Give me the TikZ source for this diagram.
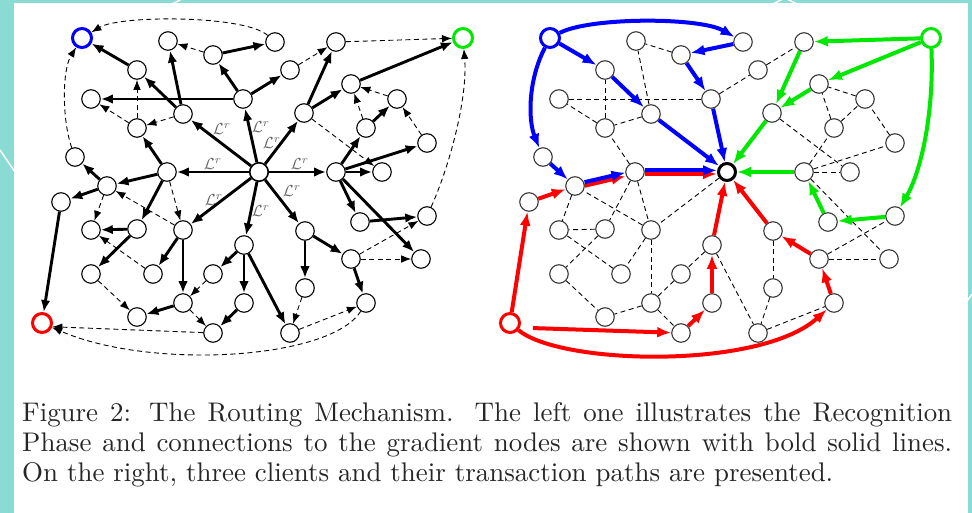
\documentclass[tikz,border=0pt]{standalone}
\usepackage{fontspec}
\usepackage{graphicx}
\usetikzlibrary{arrows.meta}
\definecolor{teal0}{RGB}{138,219,212}
\definecolor{pblue}{RGB}{0,0,255}
\definecolor{pred}{RGB}{255,0,0}
\definecolor{pgreen}{RGB}{0,232,0}
\pgfdeclarelayer{back}
\pgfdeclarelayer{edges}
\pgfsetlayers{back,edges,main}
\newlength\capw
\newlength\capfull
\def\vtxlist{n1/168/41, n2/213/55, n3/275/42, n4/336/42, n5/137/70, n6/290/70, n7/91/99, n8/243/99, n9/351/84, n10/397/99, n11/183/114, n12/304/113, n13/137/128, n14/366/128, n15/427/143, n16/75/157, n17/167/172, n18/336/172, n19/382/172, n20/61/202, n21/107/186, n22/91/230, n23/137/229, n24/183/230, n25/244/245, n26/305/231, n27/360/222, n28/427/216, n29/91/274, n30/153/274, n31/213/274, n32/351/259, n33/421/259, n34/305/288, n35/183/303, n36/244/303, n37/366/303, n38/137/317, n39/213/333, n40/290/333}
% tree edges that become coloured paths on the right
\def\treeA{C/n11, C/n8, C/n12, C/n17, C/n18, C/n26, C/n25, n11/n5, n5/B, n8/n2, n2/n3, n12/n4, n12/n9, n9/G, n18/n27, n27/n28, n26/n32, n32/n37, n25/n36, n36/n39, n17/n21, n21/n20, n20/R, n21/n16}
% tree edges that become dashed on the right
\def\treeB{C/n24, n11/n1, n8/n7, n8/n6, n18/n14, n14/n10, n18/n15, n18/n19, n18/n33, n26/n34, n25/n40, n25/n31, n24/n30, n24/n35, n35/n38, n17/n23, n23/n22, n23/n29, n17/n13}
% dashed edges on both sides
\def\dashA{n40/n37, n32/n33, n32/n28, n34/n40, n29/n38, n30/n22, n21/n22, n24/n21, n17/n24, n31/n35, n35/n39, n13/n5, n13/n7, n11/n13, n2/n1, n6/n4, n12/n19, n14/n9, n10/n9, n15/n10}
\begin{document}
\settowidth\capw{\fontsize{10}{12}\selectfont On the right, three clients and their transaction paths are presented.}%
\pgfmathsetmacro\capsc{811/\capw}%
\pgfmathsetlength\capfull{930/\capsc}%
\begin{tikzpicture}[x=1pt,y=-1pt,
  vtx/.style={circle,draw=black,fill=white,line width=1.1pt,minimum size=18.5pt,inner sep=0pt},
  vtxr/.style={vtx,draw=black!78},
  ring/.style={circle,fill=white,line width=3pt,minimum size=19pt,inner sep=0pt},
  bold/.style={line width=2.9pt,-{Latex[length=12pt,width=9.5pt]}},
  dsh/.style={line width=0.9pt,dash pattern=on 5pt off 3.5pt},
  dsharr/.style={dsh,-{Latex[length=10pt,width=7.5pt]}},
  cpath/.style={line width=4pt,-{Latex[length=14pt,width=11pt]}},
  lab/.style={inner sep=0pt,text=black!60},
  capt/.style={anchor=base west,inner sep=0pt,text=black!85}
]
\useasboundingbox (0,0) rectangle (972,513);
\begin{pgfonlayer}{back}
\fill[teal0] (0,0) rectangle (972,513);
\fill[white] (14,3) rectangle (968,513);
\draw[white,line width=1.5pt] (0,150) -- (15,172);
\draw[white,line width=1.5pt] (170,5) -- (184,-2);
\draw[white,line width=1.5pt] (765,8) -- (785,-2) -- (805,8);
\draw[white,line width=1.5pt] (964,305) -- (976,289);
\end{pgfonlayer}

% vertices
\foreach \n/\x/\y in \vtxlist {
  \pgfmathsetmacro\xx{\x+468}
  \node[vtx] (a\n) at (\x,\y) {};
  \node[vtxr] (b\n) at (\xx,\y) {};
}
\node[ring,draw=pblue] (aB) at (82,38) {};
\node[ring,draw=pgreen] (aG) at (463,38) {};
\node[ring,draw=pred] (aR) at (42,323) {};
\node[vtx,line width=1.6pt] (aC) at (259,172) {};
\node[ring,draw=pblue] (bB) at (550,38) {};
\node[ring,draw=pgreen] (bG) at (931,38) {};
\node[ring,draw=pred] (bR) at (510,323) {};
\node[vtx,line width=3pt,minimum size=17pt] (bC) at (727,172) {};

% labels
\foreach \i/\x/\y in {1/222/129, 2/261/127, 3/272/143, 4/213/164, 5/300/164, 6/292/191, 7/261/211, 8/214/200}
  \node[lab] (lr\i) at (\x,\y) {\scalebox{1.6}{$\mathcal{L}^{r}$}};

\begin{pgfonlayer}{edges}
% left panel
\foreach \s/\t in \treeA {\draw[bold] (a\s) -- (a\t);}
\foreach \s/\t in \treeB {\draw[bold] (a\s) -- (a\t);}
\foreach \s/\t in \dashA {\draw[dsharr] (a\s) -- (a\t);}
\draw[dsharr] (an4) -- (aG);
\draw[dsharr] (an39) -- (aR.-20);
\draw[dsharr] (an3) .. controls (245,15) and (120,15) .. (aB);
\draw[dsharr] (an16) .. controls (62,120) and (62,70) .. (aB);
\draw[dsharr] (an28) .. controls (448,170) and (468,100) .. (aG);
\draw[dsharr] (an37) .. controls (330,360) and (150,370) .. (aR);

% right panel, dashed rest
\foreach \s/\t in \treeB {\draw[dsh] (b\s) -- (b\t);}
\foreach \s/\t in \dashA {\draw[dsh] (b\s) -- (b\t);}
% blue client
\foreach \s/\t in {B/n5, n5/n11, n11/C, n3/n2, n2/n8, n8/C, n16/n21} {\draw[cpath,pblue] (b\s) -- (b\t);}
\draw[cpath,pblue] (bB) .. controls (590,17) and (700,17) .. (bn3);
\draw[cpath,pblue] (bB) .. controls (528,80) and (528,120) .. (bn16);
% red client
\foreach \s/\t in {R/n20, n20/n21, n39/n36, n36/n25, n25/C, n37/n32, n32/n26, n26/C} {\draw[cpath,pred] (b\s) -- (b\t);}
\draw[cpath,pred,shorten <=13pt] (bR.-25) -- (bn39);
\draw[cpath,pred] (bR) .. controls (560,365) and (760,370) .. (bn37);
% green client
\foreach \s/\t in {G/n4, n4/n12, G/n9, n9/n12, n12/C, n28/n27, n27/n18, n18/C} {\draw[cpath,pgreen] (b\s) -- (b\t);}
\draw[cpath,pgreen] (bG) .. controls (934,110) and (922,170) .. (bn28);
% shared red/blue segment
\foreach \s/\t in {n21/n17, n17/C} {\draw[cpath,pred,transform canvas={yshift=-2pt}] (b\s) -- (b\t);}
\foreach \s/\t in {n21/n17, n17/C} {\draw[cpath,pblue,transform canvas={yshift=1.6pt}] (b\s) -- (b\t);}
\end{pgfonlayer}

% caption
\node[capt] (cap1) at (22,421) {\scalebox{\capsc}{\fontsize{10}{12}\selectfont\makebox[\capfull][s]{Figure 2: The Routing Mechanism. The left one illustrates the Recognition}}};
\node[capt] (cap2) at (22,451) {\scalebox{\capsc}{\fontsize{10}{12}\selectfont\makebox[\capfull][s]{Phase and connections to the gradient nodes are shown with bold solid lines.}}};
\node[capt] (cap3) at (22,481) {\scalebox{\capsc}{\fontsize{10}{12}\selectfont On the right, three clients and their transaction paths are presented.}};
\end{tikzpicture}
\end{document}
